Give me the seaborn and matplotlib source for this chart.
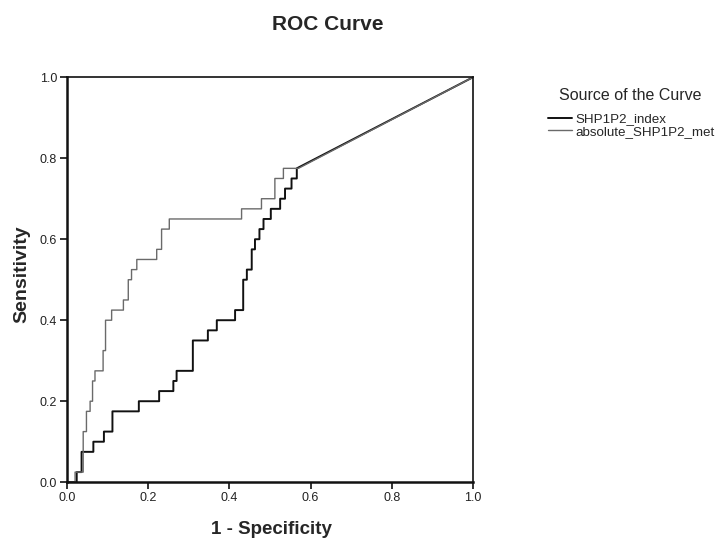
import matplotlib
matplotlib.use("Agg")
import matplotlib.pyplot as plt
import seaborn as sns

# ROC curve vertices
index_fpr = [0, 0.024, 0.024, 0.036, 0.036, 0.065, 0.065, 0.091, 0.091, 0.112, 0.112, 0.177, 0.177,
             0.227, 0.227, 0.262, 0.262, 0.27, 0.27, 0.31, 0.31, 0.347, 0.347, 0.369, 0.369, 0.414,
             0.414, 0.434, 0.434, 0.443, 0.443, 0.455, 0.455, 0.463, 0.463, 0.474, 0.474, 0.484,
             0.484, 0.502, 0.502, 0.525, 0.525, 0.537, 0.537, 0.553, 0.553, 0.566, 0.566, 1.0]
index_tpr = [0, 0, 0.025, 0.025, 0.075, 0.075, 0.1, 0.1, 0.125, 0.125, 0.175, 0.175, 0.2,
             0.2, 0.225, 0.225, 0.25, 0.25, 0.275, 0.275, 0.35, 0.35, 0.375, 0.375, 0.4, 0.4,
             0.425, 0.425, 0.5, 0.5, 0.525, 0.525, 0.575, 0.575, 0.6, 0.6, 0.625, 0.625,
             0.65, 0.65, 0.675, 0.675, 0.7, 0.7, 0.725, 0.725, 0.75, 0.75, 0.775, 1.0]

abs_fpr = [0, 0.02, 0.02, 0.04, 0.04, 0.048, 0.048, 0.057, 0.057, 0.063, 0.063, 0.069, 0.069,
           0.089, 0.089, 0.095, 0.095, 0.11, 0.11, 0.139, 0.139, 0.151, 0.151, 0.159, 0.159,
           0.172, 0.172, 0.221, 0.221, 0.233, 0.233, 0.252, 0.252, 0.43, 0.43, 0.479, 0.479,
           0.512, 0.512, 0.533, 0.533, 0.57, 1.0]
abs_tpr = [0, 0, 0.025, 0.025, 0.125, 0.125, 0.175, 0.175, 0.2, 0.2, 0.25, 0.25, 0.275,
           0.275, 0.325, 0.325, 0.4, 0.4, 0.425, 0.425, 0.45, 0.45, 0.5, 0.5, 0.525,
           0.525, 0.55, 0.55, 0.575, 0.575, 0.625, 0.625, 0.65, 0.65, 0.675, 0.675, 0.7,
           0.7, 0.75, 0.75, 0.775, 0.775, 1.0]

series_names = ["SHP1P2_index", "absolute_SHP1P2_met"]
tick_values = [0.0, 0.2, 0.4, 0.6, 0.8, 1.0]
tick_labels = ["0.0", "0.2", "0.4", "0.6", "0.8", "1.0"]

sns.set_style("white")
plt.rcParams["font.family"] = ["Liberation Sans", "DejaVu Sans"]

fig = plt.figure(figsize=(7.2, 5.4), dpi=100)
ax = fig.add_axes([0.093, 0.107, 0.564, 0.750])

sns.lineplot(x=index_fpr, y=index_tpr, sort=False, estimator=None, ax=ax,
             color="#111111", linewidth=1.4, label=series_names[0])
sns.lineplot(x=abs_fpr, y=abs_tpr, sort=False, estimator=None, ax=ax,
             color="#6a6a6a", linewidth=1.0, label=series_names[1])

ax.set_xlim(0, 1)
ax.set_ylim(0, 1)
ax.set_xticks(tick_values)
ax.set_xticklabels(tick_labels)
ax.set_yticks(tick_values)
ax.set_yticklabels(tick_labels)
ax.tick_params(axis="both", which="both", direction="out", length=5, width=1.2,
               labelsize=9, color="#111111", labelcolor="#222222", pad=2)
ax.tick_params(axis="y", left=True)
ax.tick_params(axis="x", bottom=True)
for s in ax.spines.values():
    s.set_color("#111111")
    s.set_linewidth(1.2)
ax.spines["left"].set_linewidth(1.8)
ax.spines["bottom"].set_linewidth(1.8)
ax.set_xlabel("")
ax.set_ylabel("")

fig.text(271 / 720, 1 - 529 / 540, "1 - Specificity", ha="center", va="center",
         fontsize=13.5, fontweight="bold")
fig.text(22 / 720, 1 - 274 / 540, "Sensitivity", ha="center", va="center",
         rotation=90, fontsize=14, fontweight="bold")
fig.text(328 / 720, 1 - 25 / 540, "ROC Curve", ha="center", va="center",
         fontsize=15, fontweight="bold")

handles, labels = ax.get_legend_handles_labels()
ax.get_legend().remove()
fig.text(559 / 720, 1 - 95 / 540, "Source of the Curve", ha="left", va="center",
         fontsize=11.5)
leg = fig.legend(handles, labels, loc="upper left",
                 bbox_to_anchor=(548 / 720, 1 - 113 / 540), frameon=False, fontsize=9.6,
                 handlelength=1.8, handletextpad=0.25,
                 labelspacing=0.0, borderpad=0.0, borderaxespad=0.0)

fig.savefig("out.png", dpi=100)
